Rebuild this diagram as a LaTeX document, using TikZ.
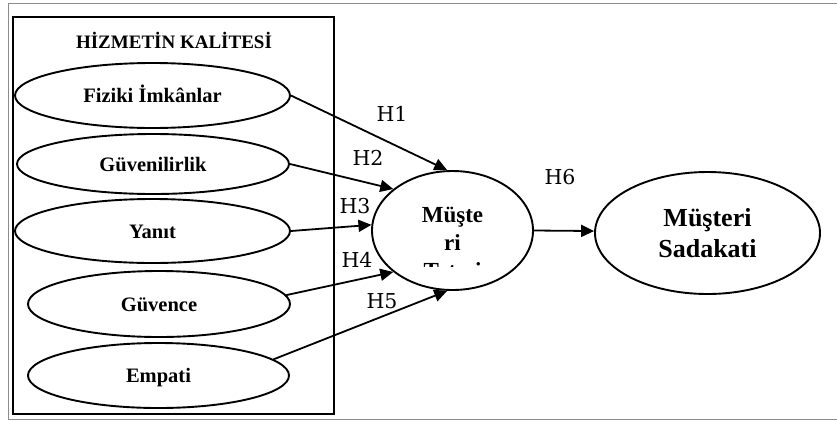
\documentclass[tikz,border=0pt]{standalone}
\usepackage{fontspec}
\setmainfont{Liberation Serif}
\newfontfamily\hlabelfont{DejaVu Serif}
\usetikzlibrary{shapes.geometric,arrows.meta}
\newlength{\du}
\setlength{\du}{1pt}

\begin{document}
\begin{tikzpicture}[every node/.style={inner sep=0pt},
  olcek/.style 2 args={ellipse,draw,line width=1.9\du,minimum width=#1\du,minimum height=#2\du,
    font=\bfseries\fontsize{20.5}{24}\selectfont,text height=14\du,text depth=0\du},
  yol/.style={line width=1.8\du,-{Triangle[length=13pt,width=12pt]}},
  hlabel/.style={font=\hlabelfont\fontsize{20.5}{24}\selectfont}]
\pgftransformxscale{1.000000}
\pgftransformyscale{-1.000000}
\useasboundingbox (0\du,0\du) rectangle (837\du,421\du);
% outer frame
\definecolor{dialinecolor}{rgb}{0.550000, 0.550000, 0.550000}
\draw[dialinecolor,line width=1\du] (837\du,3\du)--(8\du,3\du)--(8\du,419.5\du)--(837\du,419.5\du);
% service quality box
\draw[line width=1.9\du] (13\du,17\du) rectangle (334\du,414\du);
\node[font=\bfseries\fontsize{19}{22}\selectfont,anchor=base] (baslik) at (174\du,48.3\du){HİZMETİN KALİTESİ};
\node[olcek={275}{65}] (fiziki) at (152.5\du,95.5\du){Fiziki İmkânlar};
\node[olcek={272}{60}] (guven) at (153\du,164\du){Güvenilirlik};
\node[olcek={275}{64}] (yanit) at (152.5\du,231\du){Yanıt};
\node[olcek={262}{66}] (guvence) at (159\du,304\du){Güvence};
\node[olcek={261}{65}] (empati) at (158.5\du,375.5\du){Empati};
% satisfaction
\node[ellipse,draw,line width=1.9\du,minimum width=161\du,minimum height=119\du] (tatmin) at (452.5\du,230.5\du){};
\begin{scope}
\clip (372\du,160\du) rectangle (533\du,266\du);
\node[font=\bfseries\fontsize{23}{28}\selectfont,align=center,anchor=base] (tatminyazi) at (452.5\du,306\du){Müşte\\ri\\Tatmi\\ni};
\end{scope}
% loyalty
\node[ellipse,draw,line width=1.9\du,minimum width=225\du,minimum height=122\du,
  font=\bfseries\fontsize{26}{31}\selectfont,align=center] (sadakat) at (707.5\du,233\du){Müşteri\\Sadakati};
\draw[yol] (fiziki.east)--(tatmin.95);
\draw[yol] (guven.east)--(tatmin.145);
\draw[yol] (yanit.east)--(tatmin.176);
\draw[yol] (guvence.4)--(tatmin.215);
\draw[yol] (empati.8)--(tatmin.265);
\draw[yol] (tatmin.east)--(sadakat.179);
\node[hlabel] (h1) at (392\du,113.5\du){H1};
\node[hlabel] (h2) at (368\du,158\du){H2};
\node[hlabel] (h3) at (355\du,206\du){H3};
\node[hlabel] (h4) at (357\du,260\du){H4};
\node[hlabel] (h5) at (382\du,301\du){H5};
\node[hlabel] (h6) at (560\du,177\du){H6};
\end{tikzpicture}
\end{document}
